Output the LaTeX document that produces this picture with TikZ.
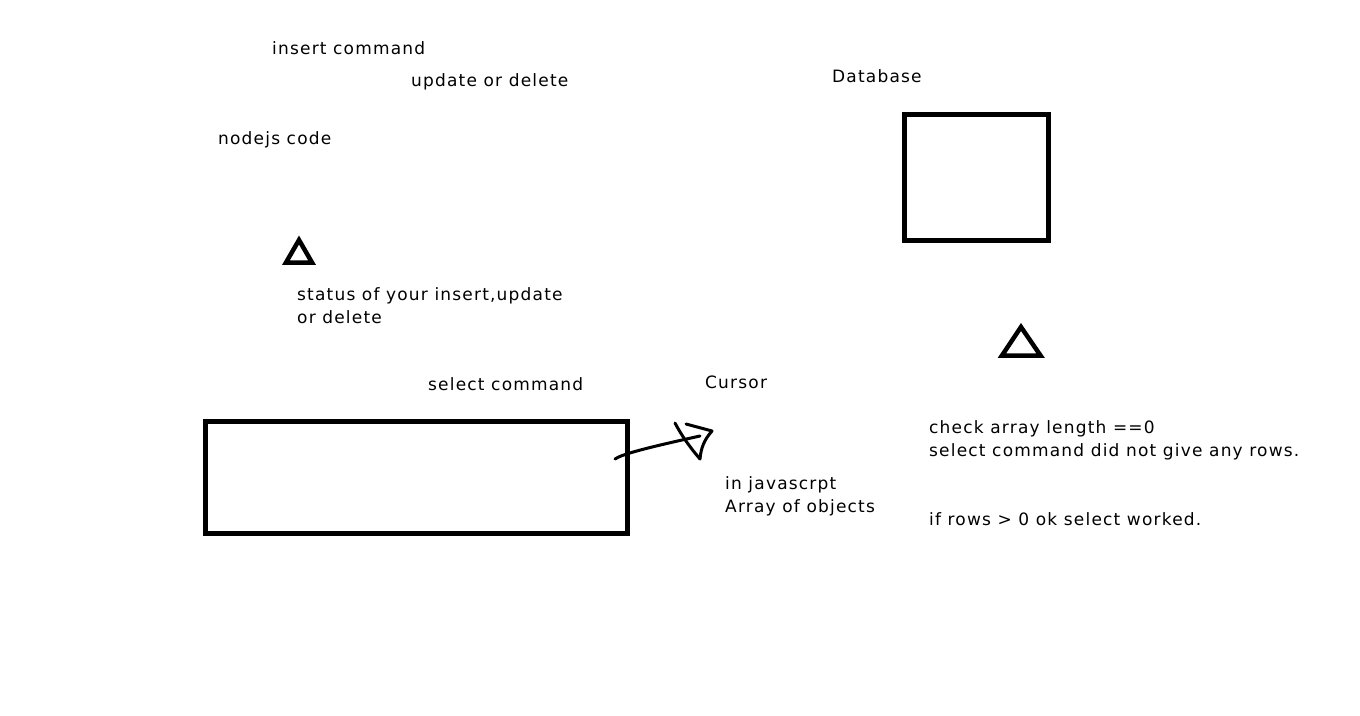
\documentclass[tikz,border=0pt]{standalone}
\usepackage{fontspec}
\setmainfont[LetterSpace=7]{DejaVu Sans}
\begin{document}
\begin{tikzpicture}[x=1pt,y=-1pt,
  lbl/.style={anchor=base west,inner sep=0pt,font=\fontsize{17}{23}\selectfont,align=left},
  boxline/.style={line width=5pt},
  triline/.style={line width=4.5pt,line join=miter},
  pen/.style={line width=3pt,line cap=round,line join=round}]
\useasboundingbox[fill=white] (0,0) rectangle (1360,715);
% texts
\node[lbl] (insert) at (272,54) {insert command};
\node[lbl] (upd) at (411,86) {update or delete};
\node[lbl] (nodejs) at (218,144) {nodejs code};
\node[lbl] (dblabel) at (832,82) {Database};
\node[lbl] (status) at (297,323) {status of your insert,update\\or delete};
\node[lbl] (selcmd) at (428,390) {select command};
\node[lbl] (cursor) at (705,388) {Cursor};
\node[lbl] (jsarr) at (725,512) {in javascrpt\\Array of objects};
\node[lbl] (check) at (929,456) {check array length ==0\\select command did not give any rows.};
\node[lbl] (ifrows) at (929,525) {if rows > 0 ok select worked.};
% boxes
\node[draw,boxline,minimum width=144pt,minimum height=126pt,inner sep=0pt] (db) at (976.5,177.5) {};
\node[draw,boxline,minimum width=422pt,minimum height=112pt,inner sep=0pt] (selbox) at (416,477) {};
% triangles
\draw[triline] (299,240) -- (312,262.5) -- (286,262.5) -- cycle;
\draw[triline] (1021,327) -- (1040.5,355.5) -- (1002,355.5) -- cycle;
% hand-drawn arrow
\coordinate (s0) at (615,459);
\coordinate (s1) at (700,436);
\draw[pen] (s0) .. controls (622,454) and (650,447) .. (s1);
\draw[pen] (675,423) .. controls (684,440) and (694,452) .. (700,459)
  .. controls (701,448) and (704,440) .. (712,431)
  -- (686,424);
\end{tikzpicture}
\end{document}
